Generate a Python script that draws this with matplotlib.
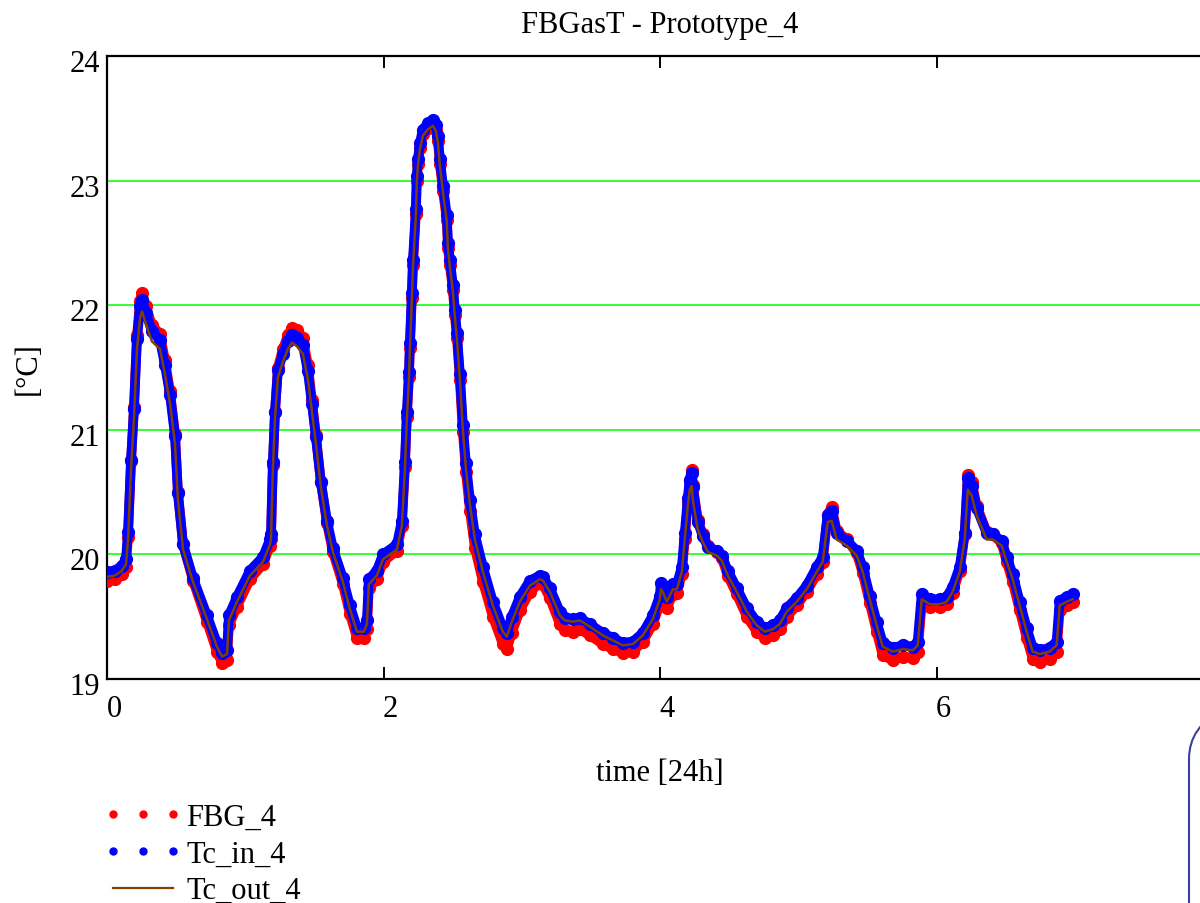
import matplotlib
matplotlib.use("Agg")
import matplotlib.pyplot as plt
from matplotlib.lines import Line2D
from matplotlib.patches import FancyBboxPatch
from matplotlib.transforms import ScaledTranslation

plt.rcParams["font.family"] = ["Liberation Serif", "DejaVu Serif"]

# time [24h] and temperatures [°C]
time_days = [
    0.000, 0.058, 0.108, 0.137, 0.152, 0.174, 0.195, 0.217, 0.239, 0.253,
    0.282, 0.325, 0.383, 0.419, 0.456, 0.492, 0.513, 0.550, 0.622, 0.723,
    0.795, 0.832, 0.868, 0.882, 0.940, 1.034, 1.128, 1.179, 1.186, 1.200,
    1.215, 1.236, 1.273, 1.309, 1.338, 1.374, 1.417, 1.453, 1.482, 1.511,
    1.547, 1.591, 1.634, 1.706, 1.757, 1.808, 1.858, 1.880, 1.894, 1.952,
    1.996, 2.097, 2.133, 2.155, 2.169, 2.184, 2.191, 2.205, 2.213, 2.234,
    2.241, 2.249, 2.263, 2.285, 2.321, 2.357, 2.379, 2.393, 2.408, 2.430,
    2.458, 2.466, 2.480, 2.502, 2.516, 2.531, 2.552, 2.574, 2.596, 2.625,
    2.661, 2.719, 2.791, 2.863, 2.892, 2.928, 2.986, 3.059, 3.131, 3.153,
    3.203, 3.276, 3.312, 3.369, 3.420, 3.492, 3.586, 3.659, 3.731, 3.803,
    3.876, 3.948, 3.999, 4.006, 4.020, 4.049, 4.093, 4.122, 4.158, 4.179,
    4.201, 4.215, 4.230, 4.237, 4.273, 4.309, 4.346, 4.411, 4.447, 4.490,
    4.555, 4.628, 4.700, 4.758, 4.816, 4.866, 4.917, 4.989, 5.061, 5.134,
    5.177, 5.213, 5.242, 5.278, 5.351, 5.423, 5.466, 5.517, 5.567, 5.611,
    5.683, 5.756, 5.828, 5.864, 5.893, 5.951, 6.023, 6.074, 6.117, 6.168,
    6.204, 6.226, 6.255, 6.291, 6.363, 6.406, 6.471, 6.508, 6.551, 6.602,
    6.652, 6.696, 6.746, 6.818, 6.869, 6.891, 6.942, 6.985,
]

tc_out_4 = [
    19.82, 19.83, 19.87, 19.92, 20.12, 20.69, 21.09, 21.65, 21.90, 21.95,
    21.85, 21.71, 21.65, 21.45, 21.21, 20.89, 20.44, 20.04, 19.78, 19.48,
    19.26, 19.18, 19.20, 19.47, 19.62, 19.83, 19.94, 20.08, 20.12, 20.69,
    21.09, 21.42, 21.55, 21.65, 21.70, 21.67, 21.61, 21.41, 21.15, 20.89,
    20.54, 20.23, 20.02, 19.78, 19.56, 19.38, 19.38, 19.44, 19.76, 19.83,
    19.96, 20.04, 20.23, 20.69, 21.09, 21.41, 21.65, 22.05, 22.31, 22.72,
    22.99, 23.12, 23.25, 23.36, 23.41, 23.44, 23.40, 23.31, 23.12, 22.91,
    22.67, 22.45, 22.31, 22.11, 21.91, 21.73, 21.41, 21.00, 20.69, 20.40,
    20.12, 19.86, 19.59, 19.38, 19.34, 19.46, 19.62, 19.75, 19.80, 19.79,
    19.70, 19.51, 19.47, 19.46, 19.47, 19.42, 19.35, 19.31, 19.27, 19.28,
    19.35, 19.48, 19.64, 19.72, 19.70, 19.62, 19.72, 19.72, 19.86, 20.12,
    20.39, 20.52, 20.55, 20.44, 20.20, 20.10, 20.02, 19.99, 19.95, 19.83,
    19.70, 19.54, 19.43, 19.38, 19.40, 19.44, 19.54, 19.62, 19.72, 19.86,
    19.94, 20.26, 20.27, 20.12, 20.07, 19.99, 19.86, 19.64, 19.43, 19.26,
    19.22, 19.24, 19.23, 19.27, 19.64, 19.60, 19.60, 19.62, 19.70, 19.86,
    20.12, 20.52, 20.47, 20.31, 20.12, 20.12, 20.07, 19.94, 19.80, 19.59,
    19.38, 19.22, 19.20, 19.22, 19.27, 19.59, 19.62, 19.64,
]

fbg_4 = [
    19.79, 19.80, 19.84, 19.90, 20.14, 20.75, 21.18, 21.76, 22.03, 22.10,
    21.99, 21.84, 21.77, 21.56, 21.31, 20.97, 20.50, 20.08, 19.79, 19.46,
    19.22, 19.13, 19.15, 19.43, 19.58, 19.80, 19.92, 20.07, 20.12, 20.72,
    21.14, 21.50, 21.65, 21.76, 21.82, 21.80, 21.74, 21.52, 21.24, 20.96,
    20.58, 20.25, 20.02, 19.76, 19.52, 19.33, 19.33, 19.40, 19.73, 19.80,
    19.94, 20.03, 20.23, 20.70, 21.10, 21.42, 21.66, 22.06, 22.32, 22.73,
    23.00, 23.13, 23.26, 23.37, 23.42, 23.45, 23.41, 23.32, 23.13, 22.92,
    22.68, 22.46, 22.32, 22.12, 21.92, 21.74, 21.40, 20.98, 20.66, 20.35,
    20.05, 19.78, 19.50, 19.28, 19.24, 19.37, 19.55, 19.70, 19.77, 19.76,
    19.65, 19.44, 19.39, 19.38, 19.40, 19.35, 19.28, 19.24, 19.21, 19.22,
    19.30, 19.44, 19.60, 19.67, 19.65, 19.57, 19.68, 19.69, 19.84, 20.12,
    20.42, 20.60, 20.68, 20.56, 20.28, 20.16, 20.07, 20.02, 19.97, 19.83,
    19.68, 19.50, 19.38, 19.33, 19.35, 19.40, 19.50, 19.59, 19.70, 19.84,
    19.94, 20.32, 20.38, 20.19, 20.12, 20.01, 19.85, 19.61, 19.38, 19.19,
    19.15, 19.18, 19.17, 19.22, 19.60, 19.58, 19.58, 19.60, 19.69, 19.87,
    20.16, 20.64, 20.58, 20.39, 20.18, 20.16, 20.09, 19.94, 19.78, 19.55,
    19.33, 19.16, 19.14, 19.16, 19.22, 19.55, 19.59, 19.62,
]

tc_in_4 = [
    19.86, 19.87, 19.91, 19.96, 20.18, 20.76, 21.17, 21.73, 21.99, 22.04,
    21.94, 21.79, 21.72, 21.52, 21.28, 20.95, 20.49, 20.08, 19.81, 19.51,
    19.29, 19.21, 19.23, 19.51, 19.66, 19.87, 19.98, 20.12, 20.16, 20.74,
    21.14, 21.48, 21.61, 21.71, 21.76, 21.74, 21.68, 21.47, 21.21, 20.94,
    20.58, 20.27, 20.05, 19.81, 19.59, 19.41, 19.41, 19.47, 19.80, 19.87,
    20.00, 20.08, 20.27, 20.74, 21.14, 21.46, 21.70, 22.10, 22.36, 22.77,
    23.04, 23.17, 23.30, 23.41, 23.46, 23.49, 23.45, 23.36, 23.17, 22.96,
    22.72, 22.50, 22.36, 22.16, 21.96, 21.78, 21.45, 21.04, 20.73, 20.44,
    20.16, 19.90, 19.62, 19.41, 19.37, 19.50, 19.66, 19.79, 19.83, 19.82,
    19.73, 19.54, 19.49, 19.48, 19.49, 19.44, 19.37, 19.33, 19.29, 19.30,
    19.37, 19.51, 19.67, 19.77, 19.75, 19.66, 19.76, 19.76, 19.90, 20.17,
    20.45, 20.60, 20.65, 20.54, 20.26, 20.15, 20.06, 20.03, 19.99, 19.87,
    19.73, 19.57, 19.46, 19.41, 19.43, 19.47, 19.57, 19.65, 19.75, 19.90,
    19.98, 20.32, 20.35, 20.17, 20.11, 20.03, 19.90, 19.67, 19.46, 19.29,
    19.25, 19.27, 19.26, 19.30, 19.68, 19.64, 19.64, 19.66, 19.74, 19.90,
    20.17, 20.61, 20.55, 20.37, 20.17, 20.16, 20.11, 19.98, 19.84, 19.62,
    19.41, 19.25, 19.23, 19.25, 19.30, 19.63, 19.66, 19.68,
]

series_labels = ["FBG_4", "Tc_in_4", "Tc_out_4"]

RED = "#ff0000"
BLUE = "#0000ff"
BROWN = "#804000"
FS = 22

fig = plt.figure(figsize=(12, 9.04), dpi=100)
ax = fig.add_axes([107 / 1200, 224 / 904, 1106 / 1200, 623 / 904])

# dotted traces: a thick band plus the dots themselves
for vals, col in [(fbg_4, RED), (tc_in_4, BLUE)]:
    ax.plot(time_days, vals, color=col, lw=7, solid_joinstyle="round",
            solid_capstyle="round", zorder=3)
    ax.plot(time_days, vals, ls="none", marker="o", ms=8.5, color=col, zorder=3)
ax.plot(time_days, tc_out_4, color=BROWN, lw=1.8, zorder=4)

ax.set_xlim(0, 8)
ax.set_ylim(19, 24)
ax.set_xticks([0, 2, 4, 6])
ax.set_yticks([19, 20, 21, 22, 23, 24])
for yv in [20, 21, 22, 23]:
    ax.axhline(yv, color="#00ff00", lw=1.1, zorder=1)

ax.tick_params(axis="x", direction="in", length=8.5, width=1.4, top=True,
               labelsize=FS, pad=11)
ax.tick_params(axis="y", length=0, labelsize=FS, pad=5)
for sp in ax.spines.values():
    sp.set_linewidth(1.6)

# Mathcad-style label placement
dx = ScaledTranslation(0.07, 0, fig.dpi_scale_trans)
for lab in ax.get_xticklabels():
    lab.set_transform(lab.get_transform() + dx)
dy = ScaledTranslation(0, -0.04, fig.dpi_scale_trans)
for lab in ax.get_yticklabels():
    lab.set_transform(lab.get_transform() + dy)

ax.set_title("FBGasT - Prototype_4", fontsize=FS, pad=17)
ax.set_xlabel("time [24h]", fontsize=FS, labelpad=25)
ax.set_ylabel("[°C]", fontsize=FS, labelpad=19)

handles = [
    Line2D([], [], ls="none", marker="o", ms=5, color=RED),
    Line2D([], [], ls="none", marker="o", ms=5, color=BLUE),
    Line2D([], [], color=BROWN, lw=1.6),
]
ax.legend(handles, series_labels, loc="upper left", bbox_to_anchor=(104 / 1200, 100 / 904),
          bbox_transform=fig.transFigure, frameon=False, numpoints=3, fontsize=FS,
          handlelength=2.55, handletextpad=0.15, labelspacing=0.25, borderpad=0,
          borderaxespad=0)

# edge of the neighbouring region box cut off at the bottom right
box = FancyBboxPatch((11.89, -1.0), 2.0, 3.09, boxstyle="round,pad=0,rounding_size=0.65",
                     transform=fig.dpi_scale_trans, fill=False, ec="#3c3f9e", lw=1.5)
fig.patches.append(box)

fig.savefig("out.png", dpi=100)
